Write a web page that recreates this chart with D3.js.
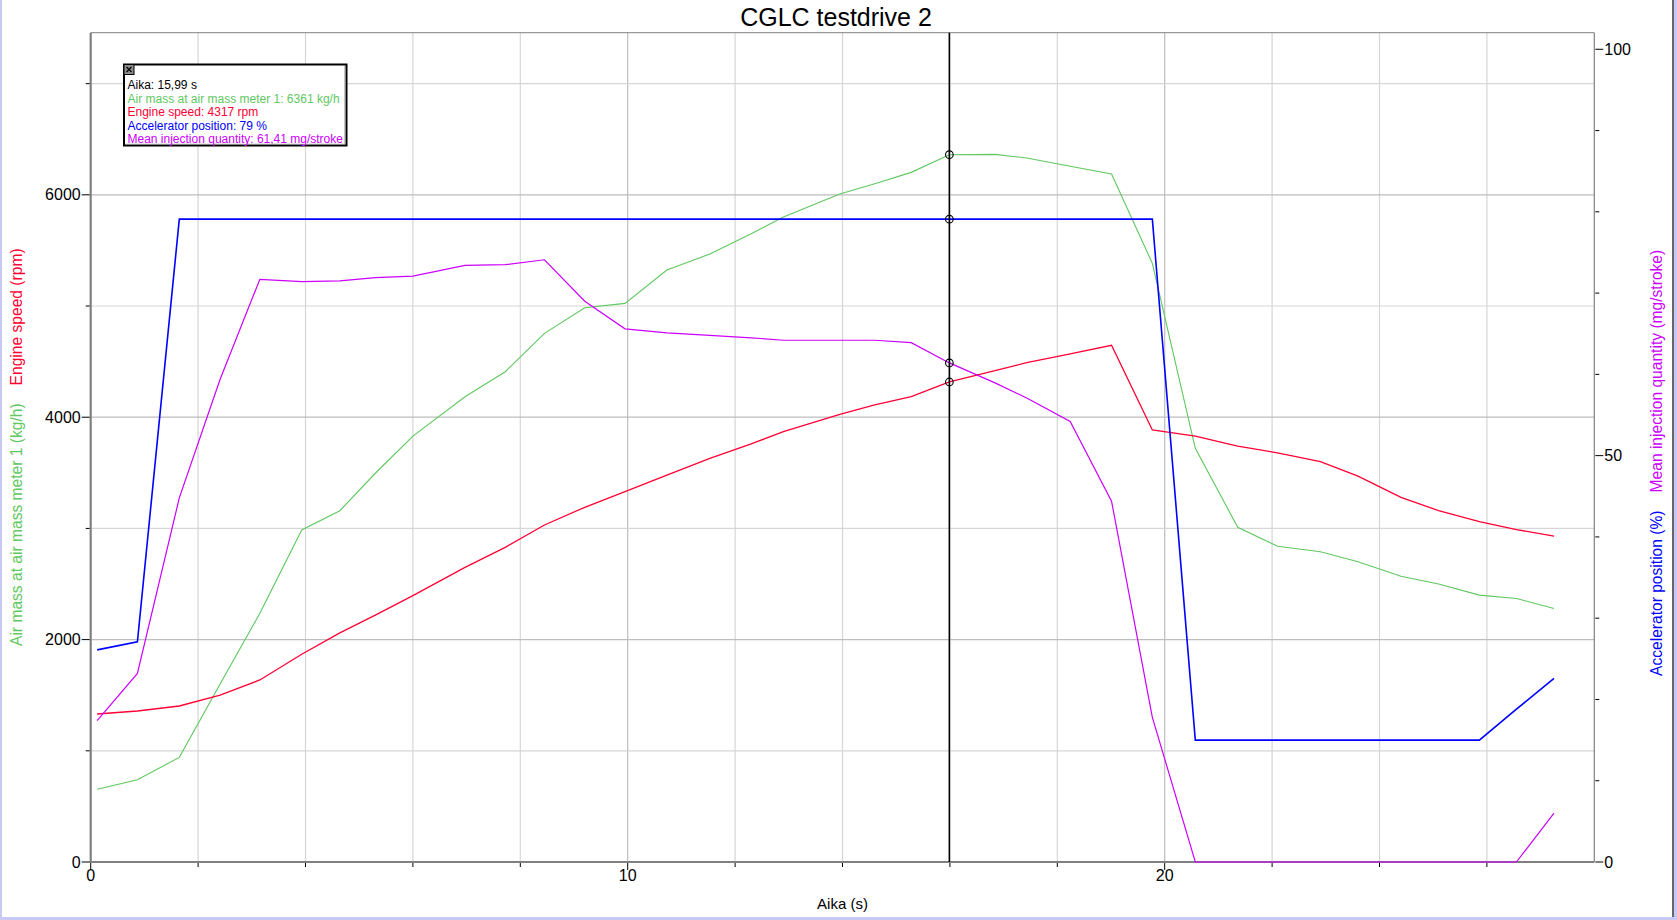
<!DOCTYPE html>
<html><head><meta charset="utf-8">
<script src="https://cdn.jsdelivr.net/npm/d3@7/dist/d3.min.js"></script>
<style>
body{margin:0;background:#fff;overflow:hidden}
svg{display:block;font-family:"Liberation Sans",Arial,sans-serif}
</style>
</head><body>
<svg id="c" width="1677" height="920"></svg>
<script>
// ---- data ----
const times = [0.12,0.87,1.65,2.41,3.15,3.93,4.64,5.3,6.0,6.97,7.72,8.45,9.2,9.95,10.73,11.53,12.3,12.9,13.95,14.6,15.28,15.99,16.84,17.43,18.24,19.01,19.77,20.57,21.36,22.1,22.9,23.6,24.4,25.1,25.86,26.55,27.25];
const airMass = [654,740,941,1600,2236,2986,3159,3496,3830,4184,4409,4754,4985,5024,5324,5468,5650,5800,6007,6100,6202,6361,6364,6331,6257,6187,5384,3720,3010,2840,2790,2700,2570,2500,2400,2370,2280];
const engineSpeed = [1331,1358,1403,1500,1637,1868,2060,2220,2395,2650,2830,3031,3190,3330,3480,3630,3760,3870,4026,4110,4185,4317,4420,4490,4570,4647,3885,3830,3740,3680,3600,3470,3280,3160,3060,2990,2930];
const accelPos = [26.1,27.1,79.1,79.1,79.1,79.1,79.1,79.1,79.1,79.1,79.1,79.1,79.1,79.1,79.1,79.1,79.1,79.1,79.1,79.1,79.1,79.1,79.1,79.1,79.1,79.1,79.1,15.0,15.0,15.0,15.0,15.0,15.0,15.0,15.0,18.8,22.6];
const injQty = [17.4,23.2,44.8,59.4,71.7,71.4,71.5,71.9,72.1,73.4,73.5,74.1,69.0,65.6,65.1,64.8,64.5,64.2,64.2,64.2,63.9,61.41,58.95,57.1,54.2,44.4,17.8,0,0,0,0,0,0,0,0,0,6.0];

const xTicks = [0,10,20];
const leftTicks = [0,2000,4000,6000];
const rightTicks = [0,50,100];
const cursorTime = 15.99;
const tooltipLines = ["Aika: 15,99 s","Air mass at air mass meter 1: 6361 kg/h","Engine speed: 4317 rpm","Accelerator position: 79 %","Mean injection quantity: 61,41 mg/stroke"];

const C = {green:"#5fc85f", red:"#ff0033", blue:"#0000ff", mag:"#cc00ff"};

const series = [
  {vals: airMass, axis:"L", color:C.green, w:1.1},
  {vals: engineSpeed, axis:"L", color:C.red, w:1.3},
  {vals: accelPos, axis:"R", color:C.blue, w:1.6},
  {vals: injQty, axis:"R", color:C.mag, w:1.2}
];

// ---- scales ----
const L = 90.7, R = 1594.3, T = 32.7, B = 862;
const x = d3.scaleLinear().domain([0,28]).range([L,R]);
const yL = d3.scaleLinear().domain([0,7458]).range([B,T]);
const yR = d3.scaleLinear().domain([0,102.04]).range([B,T]);

const svg = d3.select("#c");

// window frame
svg.append("rect").attr("x",0).attr("y",0).attr("width",2).attr("height",920).attr("fill","#c8c8f4");
svg.append("rect").attr("x",1674).attr("y",0).attr("width",3).attr("height",920).attr("fill","#c8c8f4");
svg.append("line").attr("x1",1673).attr("x2",1673).attr("y1",0).attr("y2",920).attr("stroke","#000").attr("stroke-width",1.2);
svg.append("rect").attr("x",0).attr("y",917).attr("width",1677).attr("height",3).attr("fill","#c8c8f4");

// gridlines
const g = svg.append("g");
g.selectAll(".vg").data(d3.range(2,28,2)).enter().append("line")
  .attr("x1",d=>x(d)).attr("x2",d=>x(d)).attr("y1",T).attr("y2",B)
  .attr("stroke",d=>d%10===0?"#bdbdbd":"#d6d6d6").attr("stroke-width",1.2);
g.selectAll(".hg").data(d3.range(1000,7001,1000)).enter().append("line")
  .attr("x1",L).attr("x2",R).attr("y1",d=>yL(d)).attr("y2",d=>yL(d))
  .attr("stroke",d=>d%2000===0?"#bdbdbd":"#d6d6d6").attr("stroke-width",1.2);

// frame lines
svg.append("line").attr("x1",L).attr("x2",R).attr("y1",T).attr("y2",T).attr("stroke","#808080").attr("stroke-width",1);
svg.append("line").attr("x1",R).attr("x2",R).attr("y1",T).attr("y2",B).attr("stroke","#808080").attr("stroke-width",1.2);
svg.append("line").attr("x1",L).attr("x2",L).attr("y1",T).attr("y2",B+1).attr("stroke","#808080").attr("stroke-width",2.2);
svg.append("line").attr("x1",L-1).attr("x2",R).attr("y1",B).attr("y2",B).attr("stroke","#808080").attr("stroke-width",2.2);

// left axis
const lAx = svg.append("g");
lAx.selectAll(".t").data(d3.range(0,7001,1000)).enter().append("line")
  .attr("x1",d=>d%2000===0?L-9:L-5).attr("x2",L-1).attr("y1",d=>yL(d)).attr("y2",d=>yL(d))
  .attr("stroke","#000").attr("stroke-width",1);
lAx.selectAll(".l").data(leftTicks).enter().append("text")
  .attr("x",L-10).attr("y",d=>yL(d)+5.5).attr("text-anchor","end")
  .attr("font-size",16).text(d=>d);

// right axis
const rAx = svg.append("g");
rAx.selectAll(".t").data(d3.range(0,101,10)).enter().append("line")
  .attr("x1",R+1).attr("x2",d=>d%50===0?R+9:R+5).attr("y1",d=>yR(d)).attr("y2",d=>yR(d))
  .attr("stroke","#000").attr("stroke-width",1);
rAx.selectAll(".l").data(rightTicks).enter().append("text")
  .attr("x",R+10).attr("y",d=>yR(d)+5.5).attr("text-anchor","start")
  .attr("font-size",16).text(d=>d);

// bottom axis
const bAx = svg.append("g");
bAx.selectAll(".t").data(d3.range(0,28,2)).enter().append("line")
  .attr("x1",d=>x(d)).attr("x2",d=>x(d)).attr("y1",B+1).attr("y2",d=>d%10===0?B+8:B+5)
  .attr("stroke","#000").attr("stroke-width",1);
bAx.selectAll(".l").data(xTicks).enter().append("text")
  .attr("x",d=>x(d)).attr("y",B+19).attr("text-anchor","middle")
  .attr("font-size",16).text(d=>d);

// titles
svg.append("text").attr("x",836).attr("y",26).attr("text-anchor","middle").attr("font-size",25).text("CGLC testdrive 2");
svg.append("text").attr("x",(L+R)/2).attr("y",909).attr("text-anchor","middle").attr("font-size",15).text("Aika (s)");

const lt = svg.append("text").attr("transform","translate(22,646) rotate(-90)").attr("font-size",15.6).attr("text-anchor","start");
lt.append("tspan").attr("fill",C.green).text("Air mass at air mass meter 1 (kg/h)");
lt.append("tspan").attr("fill",C.red).attr("dx",18).text("Engine speed (rpm)");
const rt = svg.append("text").attr("transform","translate(1662,676) rotate(-90)").attr("font-size",15.6).attr("text-anchor","start");
rt.append("tspan").attr("fill",C.blue).text("Accelerator position (%)");
rt.append("tspan").attr("fill",C.mag).attr("dx",18).text("Mean injection quantity (mg/stroke)");

// lines
const plot = svg.append("g");
series.forEach(s=>{
  const ys = s.axis==="L"?yL:yR;
  const line = d3.line().x((d,i)=>x(times[i])).y(d=>ys(d));
  plot.append("path").datum(s.vals).attr("d",line).attr("fill","none")
    .attr("stroke",s.color).attr("stroke-width",s.w).attr("stroke-linejoin","miter");
});

// cursor
svg.append("line").attr("x1",x(cursorTime)).attr("x2",x(cursorTime)).attr("y1",T).attr("y2",B)
  .attr("stroke","#000").attr("stroke-width",1.6);
const bis = d3.bisector(d=>d).left;
series.forEach(s=>{
  const ys = s.axis==="L"?yL:yR;
  const i = Math.min(Math.max(bis(times,cursorTime),1),times.length-1);
  const t0=times[i-1], t1=times[i];
  const f=(cursorTime-t0)/(t1-t0);
  const v=s.vals[i-1]+(s.vals[i]-s.vals[i-1])*f;
  svg.append("circle").attr("cx",x(cursorTime)).attr("cy",ys(v)).attr("r",3.8)
    .attr("fill","none").attr("stroke","#000").attr("stroke-width",1.1);
});

// tooltip
const tip = svg.append("g");
tip.append("rect").attr("x",124).attr("y",64.5).attr("width",222.5).attr("height",81)
  .attr("fill","#fff").attr("stroke","#000").attr("stroke-width",2);
tip.append("line").attr("x1",125.5).attr("x2",345).attr("y1",144.3).attr("y2",144.3).attr("stroke","#888").attr("stroke-width",1);
tip.append("line").attr("x1",345).attr("x2",345).attr("y1",66).attr("y2",144.3).attr("stroke","#888").attr("stroke-width",1);
tip.append("rect").attr("x",124).attr("y",64.5).attr("width",10).attr("height",10).attr("fill","#8c8c8c").attr("stroke","#000").attr("stroke-width",1);
tip.append("path").attr("d","M126.5,67 L131.5,72 M131.5,67 L126.5,72").attr("stroke","#000").attr("stroke-width",1.2);
const tipColors = ["#000",C.green,C.red,C.blue,C.mag];
tip.selectAll(".tl").data(tooltipLines).enter().append("text")
  .attr("x",127.5).attr("y",(d,i)=>89+i*13.6).attr("font-size",12)
  .attr("fill",(d,i)=>tipColors[i]).text(d=>d);
</script>
</body></html>
